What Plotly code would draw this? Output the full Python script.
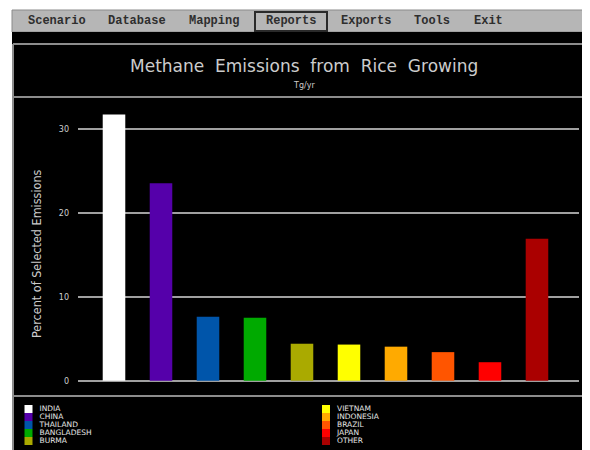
import plotly.graph_objects as go

# data
countries = ['INDIA', 'CHINA', 'THAILAND', 'BANGLADESH', 'BURMA',
             'VIETNAM', 'INDONESIA', 'BRAZIL', 'JAPAN', 'OTHER']
percent = [31.7, 23.5, 7.6, 7.5, 4.4, 4.3, 4.05, 3.4, 2.2, 16.9]
colors = ['#ffffff', '#5500aa', '#0055aa', '#00aa00', '#aaaa00',
          '#ffff00', '#ffaa00', '#ff5500', '#ff0000', '#aa0000']
menu_items = ['Scenario', 'Database', 'Mapping', 'Reports', 'Exports', 'Tools', 'Exit']
menu_x = [57, 137, 214, 291, 366, 432, 488]
y_ticks = [0, 10, 20, 30]

# the page body has an 8px margin, so work in screen pixels and shift
OFF = 8
W, H = 582, 442


def px(x):
    return (x - OFF) / W


def py(y):
    return 1 - (y - OFF) / H


fig = go.Figure()

# the bars
fig.add_trace(go.Bar(x=countries, y=percent, marker=dict(color=colors, line=dict(width=0)),
                     showlegend=False, hoverinfo='x+y'))

# hand-drawn two column legend on an overlay axis measured in screen pixels
rows = 5
leg_x = [28.5 if i // rows == 0 else 326 for i in range(len(countries))]
leg_y = [409 + 8 * (i % rows) for i in range(len(countries))]
fig.add_trace(go.Scatter(x=leg_x, y=leg_y, mode='markers', xaxis='x2', yaxis='y2',
                         marker=dict(symbol='square', size=8, color=colors, line=dict(width=0)),
                         showlegend=False, hoverinfo='skip'))
fig.add_trace(go.Scatter(x=[x + 11 for x in leg_x], y=leg_y, mode='text', xaxis='x2', yaxis='y2',
                         text=countries, textposition='middle right',
                         textfont=dict(family='DejaVu Sans', size=7.5, color='#e6e6e6'),
                         showlegend=False, hoverinfo='skip'))

grey = '#8c8c8c'
shapes = [
    # menu bar + black screen
    dict(type='rect', xref='paper', yref='paper', x0=px(12), x1=px(600), y0=py(10), y1=py(32),
         fillcolor='#b6b6b6', line=dict(color='#8a8a8a', width=1), layer='below'),
    dict(type='rect', xref='paper', yref='paper', x0=px(12), x1=px(600), y0=py(32), y1=py(460),
         fillcolor='black', line=dict(width=0), layer='below'),
    # Reports highlight box
    dict(type='rect', xref='paper', yref='paper', x0=px(255), x1=px(327), y0=py(12), y1=py(31),
         line=dict(color='#2a2a2a', width=2), layer='below'),
    # panel borders
    dict(type='line', xref='paper', yref='paper', x0=px(13), x1=px(600), y0=py(44), y1=py(44),
         line=dict(color=grey, width=2), layer='below'),
    dict(type='line', xref='paper', yref='paper', x0=px(13), x1=px(600), y0=py(97), y1=py(97),
         line=dict(color=grey, width=2), layer='below'),
    dict(type='line', xref='paper', yref='paper', x0=px(13), x1=px(600), y0=py(396), y1=py(396),
         line=dict(color=grey, width=2), layer='below'),
    dict(type='line', xref='paper', yref='paper', x0=px(13), x1=px(13), y0=py(44), y1=py(460),
         line=dict(color=grey, width=2), layer='below'),
]


def label(text, x, y, **font):
    return dict(text=text, x=px(x), y=py(y), xref='paper', yref='paper', showarrow=False,
                xanchor='center', yanchor='middle', font=font)


annotations = [label(m, x, 21, family='Liberation Mono', size=12, color='#2e2e2e', weight='bold')
               for m, x in zip(menu_items, menu_x)]
annotations += [
    label('Methane  Emissions  from  Rice  Growing', 304, 66,
          family='DejaVu Sans', size=17, color='#cccccc'),
    label('Tg/yr', 304, 85, family='DejaVu Sans', size=8, color='#cccccc'),
]
title_y = label('Percent of Selected Emissions', 36, 254,
                family='DejaVu Sans Condensed, Liberation Sans Narrow, Roboto', size=12.5, color='#cccccc')
title_y['textangle'] = -90
annotations.append(title_y)

fig.update_layout(
    width=W, height=H,
    margin=dict(l=0, r=0, t=0, b=0),
    paper_bgcolor='white',
    plot_bgcolor='rgba(0,0,0,0)',
    bargap=0.52,
    shapes=shapes,
    annotations=annotations,
    xaxis=dict(domain=[px(78), px(579)], range=[-0.766, 9.894], showticklabels=False,
               showgrid=False, zeroline=False, showline=False, fixedrange=True),
    yaxis=dict(domain=[py(388), py(105)], range=[-0.87, 32.82], tickvals=y_ticks,
               showgrid=True, gridcolor='#a0a0a0', gridwidth=2, zeroline=False, showline=False,
               ticks='', ticklabelstandoff=8,
               tickfont=dict(family='DejaVu Sans', size=8, color='#cfcfcf')),
    xaxis2=dict(domain=[0, 1], range=[OFF, OFF + W], visible=False, anchor='y2', fixedrange=True),
    yaxis2=dict(domain=[0, 1], range=[OFF + H, OFF], visible=False, anchor='x2', fixedrange=True),
)

fig.write_html("out.html")
